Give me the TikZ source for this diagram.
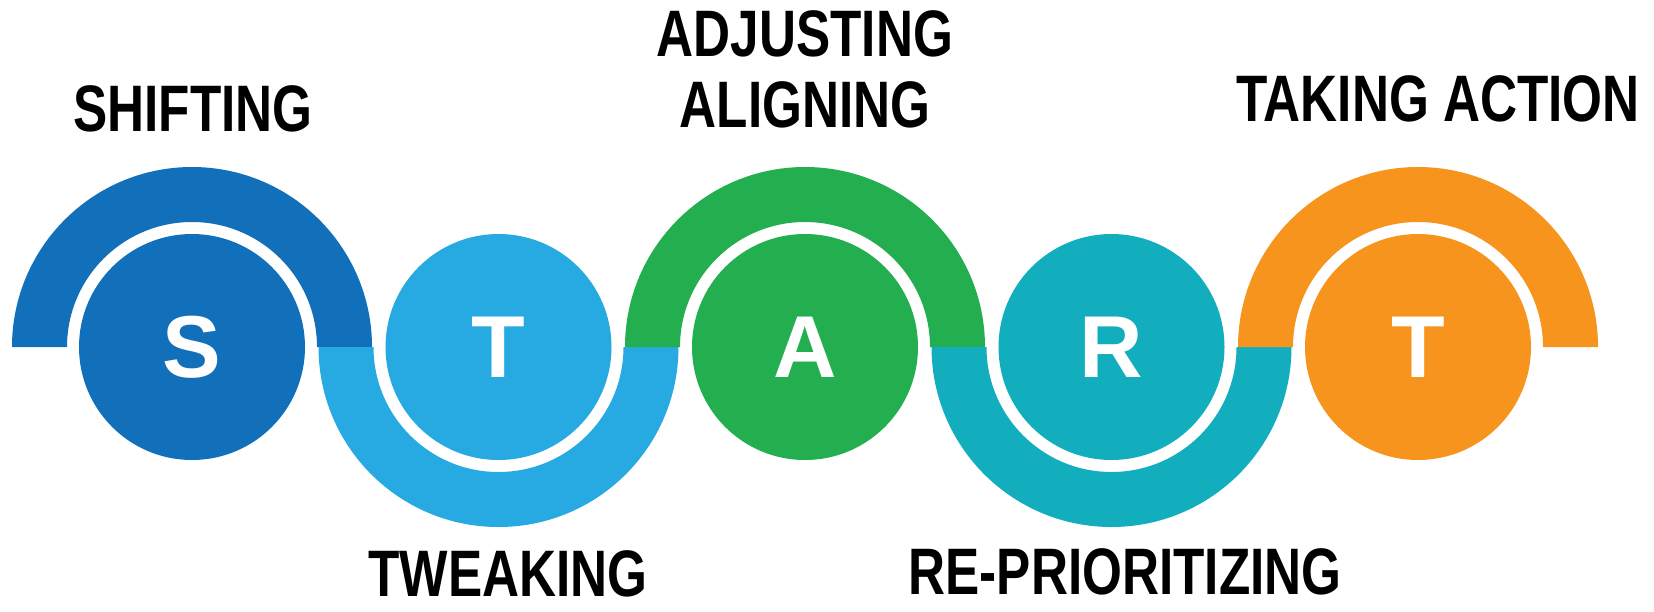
\documentclass[tikz,border=0pt]{standalone}
\usepackage{fontspec}
\usepackage{tikz}
\usetikzlibrary{positioning}
\newfontfamily\labelfont[FakeStretch=0.78]{Liberation Sans}
\newfontfamily\circfont{Liberation Sans}
\definecolor{sblue}{HTML}{1170B9}
\definecolor{tblue}{HTML}{27AAE1}
\definecolor{agreen}{HTML}{23AF50}
\definecolor{rteal}{HTML}{12AEBE}
\definecolor{torange}{HTML}{F7941E}
\tikzset{
  letter/.style={circle, inner sep=0pt, minimum size=2.26cm, text=white,
    font=\circfont\bfseries\fontsize{25}{25}\selectfont},
  word/.style={anchor=base, inner sep=0pt, text=black,
    font=\labelfont\bfseries\fontsize{18.7}{20}\selectfont}
}
\begin{document}
\begin{tikzpicture}
    \useasboundingbox (0,0) rectangle (16.54,6.11);
    % centres
    \foreach \i in {1,...,5} {
        \coordinate (O\i) at ({1.92+(\i-1)*3.065},2.64);
    }
    % half rings, up and down in turn
    \foreach \i/\dir/\col in {1/1/sblue, 2/-1/tblue, 3/1/agreen, 4/-1/rteal, 5/1/torange} {
        \fill[\col] (O\i) ++(-1.8,0) arc[start angle=180, end angle={180-180*\dir}, radius=1.8]
            -- ++(-0.55,0) arc[start angle={180-180*\dir}, end angle=180, radius=1.25] -- cycle;
    }
    % letters
    \foreach \l/\col [count=\i] in {S/sblue, T/tblue, A/agreen, R/rteal, T/torange} {
        \node[letter, fill=\col] (L\i) at (O\i) {\l};
    }
    % words above
    \node[word] (shifting) at (1.93,4.80) {SHIFTING};
    \node[word] (adjusting) at (8.05,5.55) {ADJUSTING};
    \node[word] (aligning) at (8.05,4.84) {ALIGNING};
    \node[word] (action) at (14.38,4.90) {TAKING ACTION};
    % words below
    \node[word] (tweaking) at (5.08,0.15) {TWEAKING};
    \node[word] (reprio) at (11.25,0.17) {RE-PRIORITIZING};
\end{tikzpicture}
\end{document}
